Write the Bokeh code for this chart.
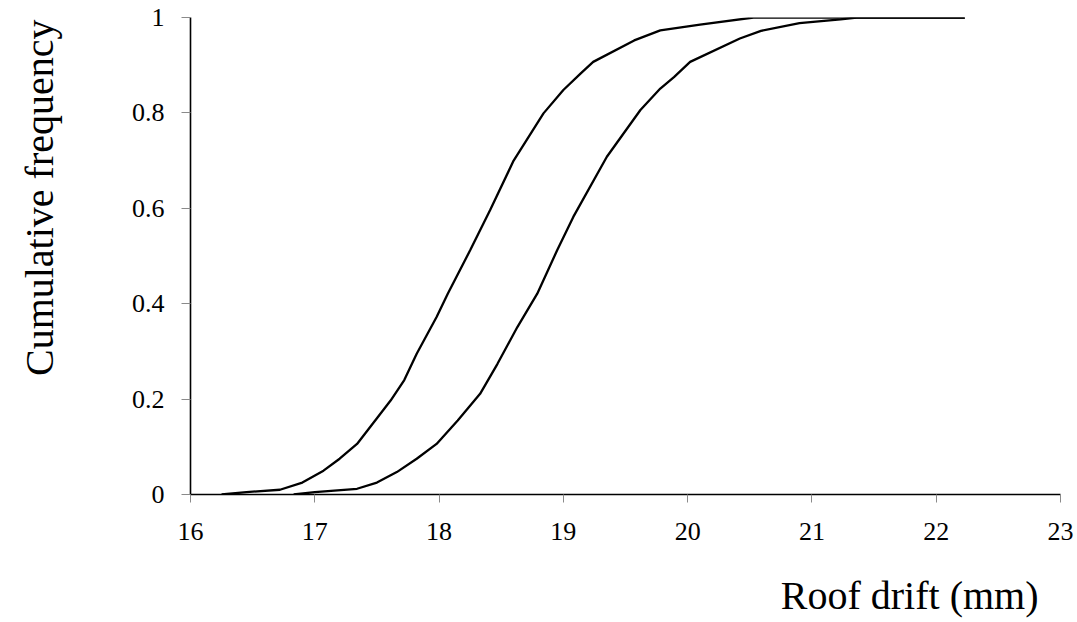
from bokeh.plotting import figure
from bokeh.models import FixedTicker, NumeralTickFormatter, Range1d, Title
from bokeh.embed import file_html
from bokeh.resources import INLINE

# ---- data ----
drift_a = [16.25, 16.45, 16.72, 16.90, 17.07, 17.20, 17.34, 17.50, 17.61, 17.72,
           17.82, 17.98, 18.07, 18.25, 18.41, 18.60, 18.84, 19.00, 19.14,
           19.24, 19.57, 19.78, 20.10, 20.53, 22.23]
freq_a = [0.0, 0.005, 0.01, 0.025, 0.05, 0.075, 0.106, 0.16, 0.197, 0.240,
          0.295, 0.372, 0.421, 0.512, 0.596, 0.70, 0.799, 0.848, 0.883,
          0.907, 0.952, 0.973, 0.985, 1.0, 1.0]

drift_b = [16.83, 17.00, 17.34, 17.50, 17.66, 17.82, 17.98, 18.15, 18.33, 18.47,
           18.63, 18.79, 18.95, 19.08, 19.35, 19.62, 19.78, 19.89, 20.02,
           20.42, 20.59, 20.90, 21.23, 21.36, 22.23]
freq_b = [0.0, 0.005, 0.012, 0.025, 0.047, 0.075, 0.106, 0.155, 0.211, 0.274,
          0.351, 0.421, 0.512, 0.582, 0.708, 0.806, 0.851, 0.875, 0.907,
          0.956, 0.972, 0.988, 0.996, 1.0, 1.0]

x_ticks = [16, 17, 18, 19, 20, 21, 22, 23]
y_ticks = [0, 0.2, 0.4, 0.6, 0.8, 1.0]
x_label = "Roof drift (mm)"
y_label = "Cumulative frequency"

FONT = "Times New Roman"

p = figure(width=1077, height=622, output_backend="svg", toolbar_location=None,
           x_range=Range1d(16, 23), y_range=Range1d(0, 1),
           min_border_left=190, min_border_right=17,
           min_border_top=17, min_border_bottom=128)
p.outline_line_color = None
p.xgrid.visible = False
p.ygrid.visible = False
p.background_fill_color = "white"
p.border_fill_color = "white"

p.line(drift_a, freq_a, line_color="black", line_width=2.3)
p.line(drift_b, freq_b, line_color="black", line_width=2.3)

for ax in (p.xaxis[0], p.yaxis[0]):
    ax.axis_line_color = "black"
    ax.axis_line_width = 1.6
    ax.major_tick_line_color = "#8a8a8a"
    ax.major_tick_line_width = 1
    ax.major_tick_in = 0
    ax.minor_tick_line_color = None
    ax.major_label_text_font = FONT
    ax.major_label_text_font_size = "26px"
    ax.major_label_text_color = "black"
    # blank spacer label to push the titles outward
    ax.axis_label = " "
    ax.axis_label_text_font = FONT
    ax.axis_label_text_font_size = "10px"

p.xaxis[0].ticker = FixedTicker(ticks=x_ticks)
p.xaxis[0].major_tick_out = 8
p.xaxis[0].major_label_standoff = 20
p.xaxis[0].axis_label_standoff = 14
p.yaxis[0].ticker = FixedTicker(ticks=y_ticks)
p.yaxis[0].formatter = NumeralTickFormatter(format="0.[0]")
p.yaxis[0].major_tick_out = 9
p.yaxis[0].major_label_standoff = 17
p.yaxis[0].axis_label_standoff = 53

p.add_layout(Title(text=x_label, align="right", offset=22, standoff=0,
                   text_font=FONT, text_font_size="40px",
                   text_font_style="normal", text_color="black"), "below")
p.add_layout(Title(text=y_label, align="right", offset=2, standoff=0,
                   text_font=FONT, text_font_size="40px",
                   text_font_style="normal", text_color="black"), "left")

open("out.html", "w").write(file_html(p, INLINE))
